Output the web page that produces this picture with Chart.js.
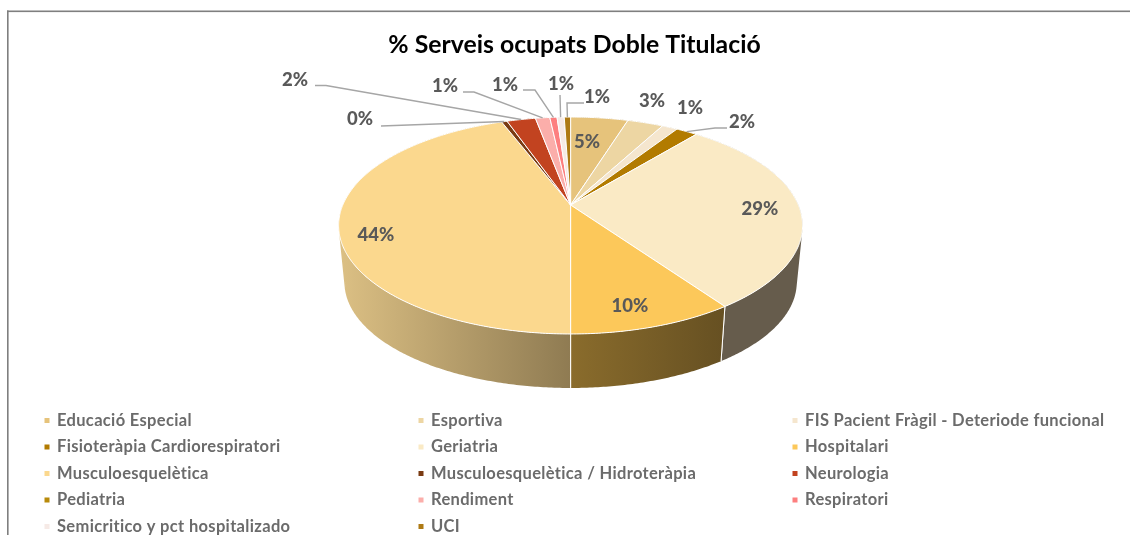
<!DOCTYPE html>
<html>
<head>
<meta charset="utf-8">
<style>
html,body{margin:0;padding:0;background:#fff;overflow:hidden}
#wrap{position:absolute;left:0;top:0;width:1130px;height:535px}
</style>
<script src="https://cdn.jsdelivr.net/npm/chart.js@4/dist/chart.umd.min.js"></script>
</head>
<body>
<div id="wrap"><canvas id="c" width="1130" height="535"></canvas></div>
<script>
const categories = ["Educació Especial","Esportiva","FIS Pacient Fràgil - Deteriode funcional","Fisioteràpia Cardiorespiratori","Geriatria","Hospitalari","Musculoesquelètica","Musculoesquelètica / Hidroteràpia","Neurologia","Pediatria","Rendiment","Respiratori","Semicritico y pct hospitalizado","UCI"];
const percentages = [4.8,3.0,1.3,1.8,29.4,9.7,44.2,0.47,2.4,0,1.2,0.6,0.6,0.53];
const sliceColors = ["#E6C37B","#EDD6A3","#F5E6CE","#B27B00","#FAEAC5","#FCC85A","#FBD88E","#7A3B12","#C24320","#B88A0A","#FBAEAA","#FD7F7F","#F6EAE6","#AE7A14"];
const wallFrom = ["#8a7540","#8a7540","#8a7540","#6a4a00","#665C4C","#8A6C2C","#DCC084","#4a2408","#7a2a14","#6a5006","#997070","#994c4c","#998e8a","#6a4a0c"];
const wallTo   = ["#8a7540","#8a7540","#8a7540","#6a4a00","#665C4C","#665022","#8F7B52","#4a2408","#7a2a14","#6a5006","#997070","#994c4c","#998e8a","#6a4a0c"];
const titleText = "% Serveis ocupats Doble Titulació";
const labelSpots = [
  {x:587,y:142},{x:652,y:101},{x:690,y:108},
  {x:742,y:122,elbow:[[727,128],[715,128]]},
  {x:760,y:209},{x:630,y:306},{x:376,y:235},
  {x:360,y:119,elbow:[[381,126]]},
  {x:295,y:80,elbow:[[315,85.5],[326,85.5]]},
  null,
  {x:445,y:86,elbow:[[463,92],[474,92]]},
  {x:505,y:85,elbow:[[523,90],[535,90]]},
  {x:561,y:84,elbow:[[560,95]]},
  {x:597,y:97,elbow:[[584,103],[567,103]]}
];
const FONT = "Lato, Carlito, Calibri, sans-serif";

/* perspective view of the pie disc */
const view = {cx:570.6,cy:205,a:227.8,b:104.6,k:0.189,depth:57.2,bottomScale:0.975};
function project(theta,lower){
  const u=Math.sin(theta),v=-Math.cos(theta),d=1-view.k*v;
  const s=lower?view.bottomScale:1,off=lower?view.depth:0;
  return [view.cx+s*view.a*u/d, view.cy+off+s*view.b*v/d];
}
function rimPoints(a0,a1,lower){
  const t0=a0+Math.PI/2,t1=a1+Math.PI/2,n=Math.max(2,Math.ceil((t1-t0)/0.01)),pts=[];
  for(let i=0;i<=n;i++)pts.push(project(t0+(t1-t0)*i/n,lower));
  return pts;
}
/* each slice is drawn by the library's arc element, in this view */
Chart.ArcElement.prototype.draw=function(ctx){
  const {startAngle,endAngle}=this.getProps(['startAngle','endAngle']);
  if(endAngle-startAngle<1e-6)return;
  const pts=rimPoints(startAngle,endAngle,false);
  ctx.save();
  ctx.beginPath();ctx.moveTo(view.cx,view.cy);
  pts.forEach(p=>ctx.lineTo(p[0],p[1]));
  ctx.closePath();
  ctx.fillStyle=this.options.backgroundColor;ctx.fill();
  ctx.strokeStyle=this.options.borderColor;ctx.lineWidth=this.options.borderWidth;ctx.lineJoin='round';ctx.stroke();
  ctx.restore();
};
const wallPlugin={id:'wall',beforeDatasetsDraw(chart){
  const ctx=chart.ctx,arcs=chart.getDatasetMeta(0).data;
  arcs.forEach((arc,i)=>{
    if(arc.endAngle-arc.startAngle<1e-6)return;
    const top=rimPoints(arc.startAngle,arc.endAngle,false),low=rimPoints(arc.startAngle,arc.endAngle,true);
    const xs=top.concat(low).map(p=>p[0]);
    const g=ctx.createLinearGradient(Math.min(...xs),0,Math.max(...xs),0);
    g.addColorStop(0,wallFrom[i]);g.addColorStop(1,wallTo[i]);
    ctx.beginPath();
    for(let j=0;j<top.length-1;j++){
      const q=[top[j],top[j+1],low[j+1],low[j]];
      let area=0;
      q.forEach((p,m)=>{const r=q[(m+1)%4];area+=p[0]*r[1]-r[0]*p[1];});
      if(area<0)q.reverse();
      q.forEach((p,m)=>m?ctx.lineTo(p[0],p[1]):ctx.moveTo(p[0],p[1]));
      ctx.closePath();
    }
    ctx.fillStyle=g;ctx.fill();
    ctx.strokeStyle='#fff';ctx.lineWidth=1;
    [0,top.length-1].forEach(j=>{ctx.beginPath();ctx.moveTo(top[j][0],top[j][1]);ctx.lineTo(low[j][0],low[j][1]);ctx.stroke();});
  });
}};
const labelPlugin={id:'labels',afterDatasetsDraw(chart){
  const ctx=chart.ctx,arcs=chart.getDatasetMeta(0).data,total=percentages.reduce((a,b)=>a+b,0);
  ctx.save();
  arcs.forEach((arc,i)=>{
    const s=labelSpots[i];if(!s)return;
    if(s.elbow){
      const end=project((arc.startAngle+arc.endAngle)/2+Math.PI/2,false);
      ctx.beginPath();
      s.elbow.forEach((p,j)=>j?ctx.lineTo(p[0],p[1]):ctx.moveTo(p[0],p[1]));
      ctx.lineTo(end[0],end[1]);
      ctx.strokeStyle='#A6A6A6';ctx.lineWidth=1.4;ctx.stroke();
    }
  });
  ctx.font="900 18.5px "+FONT;ctx.fillStyle='#595959';ctx.textAlign='center';ctx.textBaseline='middle';
  arcs.forEach((arc,i)=>{
    const s=labelSpots[i];if(!s)return;
    ctx.fillText(Math.round(percentages[i]/total*100)+'%',s.x,s.y);
  });
  ctx.restore();
}};
const legendPlugin={id:'gridLegend',afterDraw(chart){
  const ctx=chart.ctx,colX=[47,421,795],rowY=[420.5,447,473.5,500,526.5];
  ctx.save();
  ctx.font="bold 16.5px "+FONT;ctx.textAlign='left';ctx.textBaseline='middle';
  ctx.letterSpacing='0.33px';
  categories.forEach((name,i)=>{
    const x=colX[i%3],y=rowY[Math.floor(i/3)];
    ctx.fillStyle=sliceColors[i];ctx.fillRect(x-2.5,y-2.5,5,5);
    ctx.fillStyle='#6b6b6b';ctx.fillText(name,x+10,y);
  });
  ctx.restore();
}};
const framePlugin={id:'frame',beforeDraw(chart){
  const ctx=chart.ctx;
  ctx.save();ctx.fillStyle='#7f7f7f';
  ctx.fillRect(7,10.5,1123,1.6);ctx.fillRect(7,10.5,1.6,525);
  ctx.restore();
}};
new Chart(document.getElementById('c'),{
  type:'pie',
  data:{labels:categories,datasets:[{data:percentages,backgroundColor:sliceColors,borderColor:'#ffffff',borderWidth:1}]},
  plugins:[framePlugin,wallPlugin,labelPlugin,legendPlugin],
  options:{
    responsive:false,animation:false,
    layout:{padding:{left:19}},
    plugins:{
      legend:{display:false},tooltip:{enabled:false},
      title:{display:true,text:titleText,color:'#000',font:{family:FONT,size:24.8,weight:'bold'},padding:{top:30,bottom:10}}
    }
  }
});
</script>
</body>
</html>
